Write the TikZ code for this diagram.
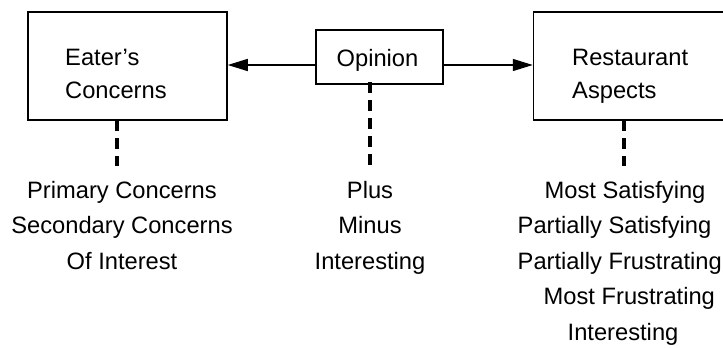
\documentclass[tikz,border=0pt]{standalone}
\usepackage{fontspec}
\setmainfont{Liberation Sans}
\usetikzlibrary{arrows.meta}
\begin{document}
\begin{tikzpicture}[x=1pt,y=-1pt,
  box/.style={draw, line width=1.5pt, rectangle, inner sep=0pt},
  boxtext/.style={inner sep=0pt, anchor=north west, align=left,
    font=\fontsize{23.7}{33}\selectfont},
  itemlist/.style={inner sep=0pt, anchor=north, align=center,
    font=\fontsize{23.7}{35.5}\selectfont},
  link/.style={line width=1.5pt, -{Triangle[length=20pt,width=12pt]}},
  dashlink/.style={line width=4pt, dash pattern=on 11pt off 7pt}]
\useasboundingbox (0,0) rectangle (723,348);

% three boxes
\node[box, minimum width=199pt, minimum height=108pt] (eater) at (127.5,66) {};
\node[boxtext] (eatertext) at (65,48.5) {Eater's\\Concerns};
\node[box, minimum width=127pt, minimum height=54pt] (opinion) at (379.5,57) {};
\node[inner sep=0pt, font=\fontsize{23.7}{33}\selectfont, anchor=base] (opiniontext) at (377.5,66) {Opinion};
\node[box, minimum width=200pt, minimum height=108pt] (rest) at (633.5,66) {};
\node[boxtext] (resttext) at (572,48.5) {Restaurant\\Aspects};

% arrows from the opinion box
\draw[link] (opinion.west |- 0,65) -- (eater.east |- 0,65);
\draw[link] (opinion.east |- 0,65) -- (rest.west |- 0,65);

% lists below each box
\node[itemlist] (eaterlist) at (122,181) {Primary Concerns\\Secondary Concerns\\Of Interest};
\node[itemlist] (opinionlist) at (370,181) {Plus\\Minus\\Interesting};
\node[itemlist, anchor=north west, align=left] (restlist) at (517.5,181)
  {\hspace*{27pt}Most Satisfying\\Partially Satisfying\\Partially Frustrating\\
   \hspace*{26pt}Most Frustrating\\\hspace*{50pt}Interesting};

% dashed ties
\coordinate (e1) at (116.5,120);
\coordinate (e2) at (116.5,166);
\coordinate (o1) at (370,82);
\coordinate (o2) at (370,166);
\coordinate (r1) at (623.5,120);
\coordinate (r2) at (623.5,166);
\draw[dashlink] (e1) -- (e2);
\draw[dashlink] (o1) -- (o2);
\draw[dashlink] (r1) -- (r2);
\end{tikzpicture}
\end{document}
